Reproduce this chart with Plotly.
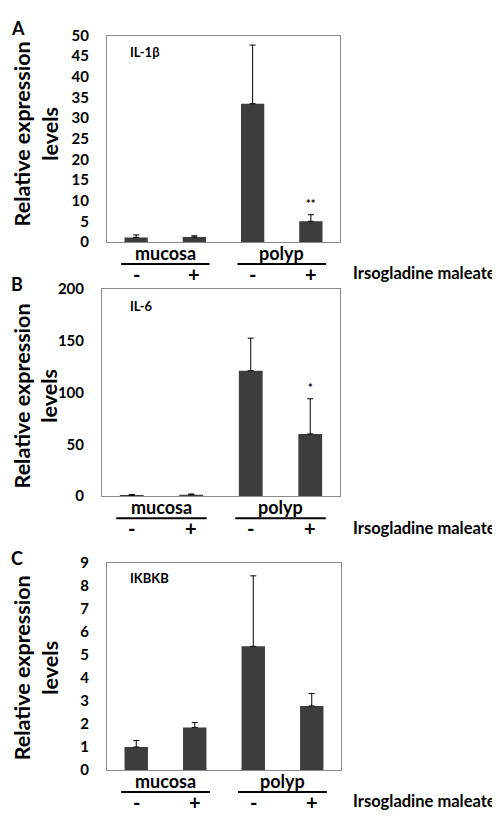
import plotly.graph_objects as go

# ---- data ----
groups = ["mucosa", "polyp"]
treatments = ["-", "+"]
categories = ["mucosa -", "mucosa +", "polyp -", "polyp +"]

il1b_mean = [1.1, 1.2, 33.5, 5.0]
il1b_err = [0.6, 0.3, 14.2, 1.6]
il6_mean = [1.0, 1.5, 121.0, 60.0]
il6_err = [0.6, 0.6, 31.5, 34.0]
ikbkb_mean = [1.0, 1.85, 5.37, 2.78]
ikbkb_err = [0.28, 0.21, 3.06, 0.54]

panel_letters = ["A", "B", "C"]
gene_names = ["IL-1β", "IL-6", "IKBKB"]
y_ranges = [[0, 50], [0, 200], [0, 9]]
y_dticks = [5, 50, 1]
significance = [["", "", "", "**"], ["", "", "", "*"], ["", "", "", ""]]
treatment_label = "Irsogladine maleate"
y_title = "Relative expression<br>levels"

means = [il1b_mean, il6_mean, ikbkb_mean]
errs = [il1b_err, il6_err, ikbkb_err]

W, H = 500, 816
FONT = "Lato"
BAR_COLOR = "#3d3d3d"
LINE_COLOR = "#8a8a8a"

def px_x(p):
    return p / W

def px_y(p):
    return 1 - p / H

# panel geometry in pixels: (left, right, top, bottom)
panels = [(99, 332, 18, 229), (94, 332, 277, 489), (99, 333, 557, 769)]
letter_y = [10, 272, 552]
gene_y = [35, 294, 573]
title_y = [119, 387, 665]

fig = go.Figure()
annotations = []
shapes = []

for i in range(3):
    l, r, t, b = panels[i]
    xa = "x" if i == 0 else f"x{i+1}"
    ya = "y" if i == 0 else f"y{i+1}"
    xkey = "xaxis" if i == 0 else f"xaxis{i+1}"
    ykey = "yaxis" if i == 0 else f"yaxis{i+1}"
    idx = list(range(len(categories)))

    fig.add_trace(go.Bar(
        x=idx, y=means[i], width=0.4,
        marker=dict(color=BAR_COLOR, line=dict(width=0)),
        error_y=dict(type="data", array=errs[i], arrayminus=[0] * len(errs[i]),
                     symmetric=False, color="black", thickness=1, width=3),
        xaxis=xa, yaxis=ya, showlegend=False, hovertext=categories,
    ))

    fig.layout[xkey] = dict(
        domain=[px_x(l), px_x(r)], anchor=ya, range=[-0.5, 3.5],
        showticklabels=False, ticks="", showgrid=False, zeroline=False,
        showline=True, mirror=True, linecolor=LINE_COLOR, linewidth=1,
        fixedrange=True,
    )
    fig.layout[ykey] = dict(
        domain=[px_y(b), px_y(t)], anchor=xa, range=y_ranges[i], dtick=y_dticks[i],
        showgrid=False, zeroline=False, ticks="", ticklabelstandoff=14,
        showline=True, mirror=True, linecolor=LINE_COLOR, linewidth=1,
        tickfont=dict(family=FONT, size=15, color="black", weight="bold"),
        fixedrange=True,
    )

    annotations.append(dict(
        x=px_x(28), y=px_y(title_y[i]), xref="paper", yref="paper",
        text=y_title, textangle=-90, showarrow=False,
        xanchor="center", yanchor="middle",
        font=dict(family=FONT, size=21.5, color="black", weight="bold"),
    ))
    annotations.append(dict(
        x=px_x(1), y=px_y(letter_y[i]), xref="paper", yref="paper",
        text=panel_letters[i], showarrow=False, xanchor="left", yanchor="middle",
        font=dict(family=FONT, size=18, color="black", weight="bold"),
    ))
    annotations.append(dict(
        x=px_x(120), y=px_y(gene_y[i]), xref="paper", yref="paper",
        text=gene_names[i], showarrow=False, xanchor="left", yanchor="middle",
        font=dict(family=FONT, size=13, color="black", weight="bold"),
    ))
    for g, name in enumerate(groups):
        cx = 2 * g + 0.5
        annotations.append(dict(
            x=cx, y=px_y(b + 11), xref=xa, yref="paper", text=name, showarrow=False,
            xanchor="center", yanchor="middle",
            font=dict(family=FONT, size=18, color="black", weight="bold"),
        ))
        shapes.append(dict(
            type="line", xref=xa, yref="paper", x0=cx - 0.76, x1=cx + 0.76,
            y0=px_y(b + 22.5), y1=px_y(b + 22.5), line=dict(color="black", width=2),
        ))
        for k, tr in enumerate(treatments):
            annotations.append(dict(
                x=2 * g + k, y=px_y(b + 33), xref=xa, yref="paper", text=tr,
                showarrow=False, xanchor="center", yanchor="middle",
                font=dict(family=FONT, size=20, color="black", weight="bold"),
            ))
    annotations.append(dict(
        x=px_x(343), y=px_y(b + 32), xref="paper", yref="paper", text=treatment_label,
        showarrow=False, xanchor="left", yanchor="middle",
        font=dict(family=FONT, size=16.5, color="black", weight="bold"),
    ))
    for j, s in enumerate(significance[i]):
        if s:
            annotations.append(dict(
                x=j, y=means[i][j] + errs[i][j], xref=xa, yref=ya, text=s,
                showarrow=False, xanchor="center", yanchor="bottom", yshift=3,
                font=dict(family=FONT, size=11, color="black", weight="bold"),
            ))

fig.update_layout(
    width=W, height=H, margin=dict(l=0, r=0, t=0, b=0),
    paper_bgcolor="white", plot_bgcolor="white",
    annotations=annotations, shapes=shapes, bargap=0.6,
)

fig.write_html("out.html")
